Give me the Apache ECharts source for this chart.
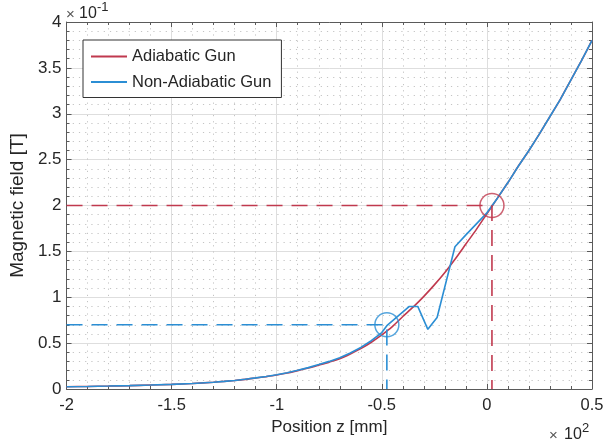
<!DOCTYPE html>
<html>
<head>
<meta charset="utf-8">
<script src="https://cdn.jsdelivr.net/npm/echarts@6/dist/echarts.min.js"></script>
<style>
  html, body { margin: 0; padding: 0; background: #fff; }
  #chart { width: 615px; height: 448px; }
</style>
</head>
<body>
<div id="chart"></div>
<script>
// Axial magnetic field along the gun axis (z in mm, B in tesla)
const adiabaticZ = [-200, -190, -180, -170, -160, -150, -140, -130, -125, -120, -115, -110, -105, -100, -95, -90, -85, -80, -75, -70, -65, -60, -55, -50, -45, -40, -35, -30, -25, -20, -15, -10, -5, 0, 5, 10, 15, 20, 25, 30, 35, 40, 45, 50];
const adiabaticB = [0.0025, 0.0028, 0.0032, 0.0037, 0.0043, 0.005, 0.006, 0.0074, 0.0083, 0.0093, 0.0105, 0.012, 0.0135, 0.0152, 0.0174, 0.02, 0.0228, 0.026, 0.0293, 0.033, 0.0382, 0.044, 0.051, 0.059, 0.068, 0.079, 0.0895, 0.101, 0.1135, 0.127, 0.142, 0.158, 0.174, 0.191, 0.208, 0.225, 0.243, 0.26, 0.278, 0.297, 0.316, 0.337, 0.358, 0.38];

const nonAdiabaticZ = [-200, -190, -180, -170, -160, -150, -140, -130, -125, -120, -115, -110, -105, -100, -95, -90, -85, -80, -75, -70, -65, -60, -55, -50, -47.6, -36.9, -32.9, -28.1, -23.7, -15.2, -10, -5, 0, 5, 10, 15, 20, 25, 30, 35, 40, 45, 50];
const nonAdiabaticB = [0.0025, 0.0028, 0.0032, 0.0037, 0.0043, 0.005, 0.006, 0.0074, 0.0083, 0.0093, 0.0106, 0.0121, 0.0137, 0.0155, 0.0177, 0.0204, 0.0233, 0.0266, 0.0301, 0.034, 0.0393, 0.0453, 0.0526, 0.0615, 0.069, 0.09, 0.09, 0.065, 0.078, 0.155, 0.168, 0.18, 0.192, 0.208, 0.225, 0.243, 0.26, 0.278, 0.297, 0.316, 0.337, 0.358, 0.38];

// Reference operating points marked with circles and guide lines
const refZ = [2.4, -47.6];
const refB = [0.2, 0.07];

const xTicksMin = -200, xTicksMax = 50, xTickStep = 50;
const yTicksMin = 0, yTicksMax = 0.4, yTickStep = 0.05;

const RED = '#c0394e';
const BLUE = '#2b8ed4';
const FONT = 'Liberation Sans';
const INK = '#262626';

const zip = (xs, ys) => xs.map((x, i) => [x, ys[i]]);
const clean = v => String(+v.toFixed(3));
const guide = (z, b) => [[xTicksMin, b], [z, b], [z, 0]];

const axisCommon = {
  type: 'value',
  axisLine: { show: true, onZero: false, lineStyle: { color: '#5a5a5a', width: 1 } },
  axisTick: { show: true, inside: true, length: 5, lineStyle: { color: '#5a5a5a' } },
  minorTick: { show: true, splitNumber: 5, length: 3, lineStyle: { color: '#5a5a5a' } },
};
const majorGrid = { show: true, lineStyle: { color: '#dedede', width: 1 } };
const minorGrid = { show: true, lineStyle: { color: '#c4c4c4', width: 1, type: [1.2, 5] } };

// Scale multiplier text ("×10" with a superscript exponent)
const label = (txt, x, y, size, color) => ({
  type: 'text', x: x, y: y, silent: true,
  style: {
    text: txt, font: size + 'px "' + FONT + '", Arial, sans-serif',
    fill: color || INK, verticalAlign: 'middle', align: 'left',
  },
});

const chart = echarts.init(document.getElementById('chart'), null, { renderer: 'canvas' });

chart.setOption({
  animation: false,
  backgroundColor: '#fff',
  textStyle: { fontFamily: FONT },
  grid: { left: 65, right: 23, top: 22, bottom: 59, containLabel: false },
  legend: {
    data: ['Adiabatic Gun', 'Non-Adiabatic Gun'],
    orient: 'vertical',
    left: 83, top: 40,
    padding: [8, 10, 7, 8],
    itemGap: 8.5,
    icon: 'rect',
    itemWidth: 36, itemHeight: 2,
    backgroundColor: '#fff',
    borderColor: '#333', borderWidth: 1,
    textStyle: { fontSize: 16.5, color: INK, fontFamily: FONT },
  },
  xAxis: [
    Object.assign({}, axisCommon, {
      min: xTicksMin, max: xTicksMax, interval: xTickStep, position: 'bottom',
      splitLine: majorGrid, minorSplitLine: minorGrid,
      axisLabel: { formatter: v => clean(v / 100), fontSize: 16.5, color: INK, margin: 8, fontFamily: FONT },
      name: 'Position z [mm]', nameLocation: 'middle', nameGap: 28,
      nameTextStyle: { fontSize: 17, color: INK, fontFamily: FONT },
    }),
    Object.assign({}, axisCommon, {
      min: xTicksMin, max: xTicksMax, interval: xTickStep, position: 'top',
      splitLine: { show: false }, axisLabel: { show: false },
    }),
  ],
  yAxis: [
    Object.assign({}, axisCommon, {
      min: yTicksMin, max: yTicksMax, interval: yTickStep, position: 'left',
      splitLine: majorGrid, minorSplitLine: minorGrid,
      axisLabel: { formatter: v => clean(v * 10), fontSize: 17, color: INK, margin: 5, fontFamily: FONT },
      name: 'Magnetic field [T]', nameLocation: 'middle', nameGap: 36,
      nameTextStyle: { fontSize: 19, color: INK, fontFamily: FONT },
    }),
    Object.assign({}, axisCommon, {
      min: yTicksMin, max: yTicksMax, interval: yTickStep, position: 'right',
      splitLine: { show: false }, axisLabel: { show: false },
    }),
  ],
  series: [
    {
      name: 'Adiabatic Gun', type: 'line', symbol: 'none', smooth: 0.25,
      data: zip(adiabaticZ, adiabaticB),
      lineStyle: { color: RED, width: 1.6 }, itemStyle: { color: RED }, z: 3,
    },
    {
      name: 'Non-Adiabatic Gun', type: 'line', symbol: 'none',
      data: zip(nonAdiabaticZ, nonAdiabaticB),
      lineStyle: { color: BLUE, width: 1.6 }, itemStyle: { color: BLUE }, z: 4,
    },
    {
      name: 'guideRed', type: 'line', symbol: 'none', silent: true,
      data: guide(refZ[0], refB[0]),
      lineStyle: { color: RED, width: 1.6, type: [16, 9] }, z: 5,
    },
    {
      name: 'guideBlue', type: 'line', symbol: 'none', silent: true,
      data: guide(refZ[1], refB[1]),
      lineStyle: { color: BLUE, width: 1.6, type: [16, 9] }, z: 5,
    },
    {
      name: 'pointRed', type: 'scatter', symbol: 'circle', symbolSize: 24, silent: true,
      data: [[refZ[0], refB[0]]],
      itemStyle: { color: 'rgba(0,0,0,0)', borderColor: RED, borderWidth: 1.5 }, z: 6,
    },
    {
      name: 'pointBlue', type: 'scatter', symbol: 'circle', symbolSize: 24, silent: true,
      data: [[refZ[1], refB[1]]],
      itemStyle: { color: 'rgba(0,0,0,0)', borderColor: BLUE, borderWidth: 1.5 }, z: 6,
    },
  ],
  graphic: [
    label('×', 66, 15, 15, '#555'),
    label('10', 79, 14, 16),
    label('-1', 97, 7, 13),
    label('×', 549, 436, 15, '#555'),
    label('10', 564, 435, 16),
    label('2', 582, 428, 13),
  ],
});
</script>
</body>
</html>
